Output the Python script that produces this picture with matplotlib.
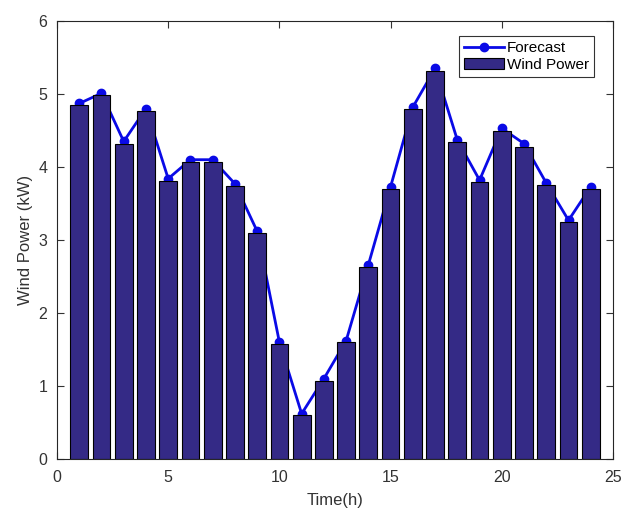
import matplotlib
matplotlib.use('Agg')
import matplotlib.pyplot as plt
import numpy as np

plt.rcParams['font.family'] = ['Liberation Sans', 'DejaVu Sans']

# hourly data
hours = np.arange(1, 25)
wind_power = [4.85, 4.99, 4.32, 4.77, 3.81, 4.07, 4.07, 3.74, 3.10, 1.58, 0.60, 1.07,
              1.60, 2.63, 3.70, 4.79, 5.32, 4.34, 3.79, 4.50, 4.28, 3.76, 3.24, 3.70]
forecast = [4.87, 5.01, 4.35, 4.80, 3.84, 4.10, 4.10, 3.77, 3.12, 1.60, 0.62, 1.10,
            1.62, 2.66, 3.73, 4.82, 5.35, 4.37, 3.82, 4.53, 4.32, 3.78, 3.27, 3.73]

fig = plt.figure(figsize=(6.24, 5.16), dpi=100)
ax = fig.add_axes([57 / 624, 1 - 459 / 516, 556 / 624, 438 / 516])

# line first (drawn under the bars, like the original)
ax.plot(hours, forecast, '-o', color='#0a0ae6', linewidth=2, markersize=6,
        label='Forecast', zorder=1)
ax.bar(hours, wind_power, width=0.8, color='#342a86', edgecolor='black',
       linewidth=0.8, label='Wind Power', zorder=2)

ax.set_xlim(0, 25)
ax.set_ylim(0, 6)
ax.set_xticks([0, 5, 10, 15, 20, 25])
ax.set_yticks(range(7))
ax.tick_params(direction='in', top=True, right=True, labelsize=11.5,
               colors='#333333', length=5)
ax.tick_params(axis='x', pad=8)
ax.tick_params(axis='y', pad=7)
for s in ax.spines.values():
    s.set_color('#262626')
    s.set_linewidth(0.8)

ax.set_xlabel('Time(h)', fontsize=12, color='#333333', labelpad=6)
ax.set_ylabel('Wind Power (kW)', fontsize=12, color='#333333', labelpad=4)

leg = ax.legend(loc='upper right', bbox_to_anchor=(0.965, 0.965), fontsize=11,
                frameon=True, fancybox=False, edgecolor='black',
                borderpad=0.3, handlelength=2.6, handletextpad=0.2,
                labelspacing=0.2, borderaxespad=0)
leg.get_frame().set_linewidth(0.8)

fig.savefig('out.png', dpi=100)
